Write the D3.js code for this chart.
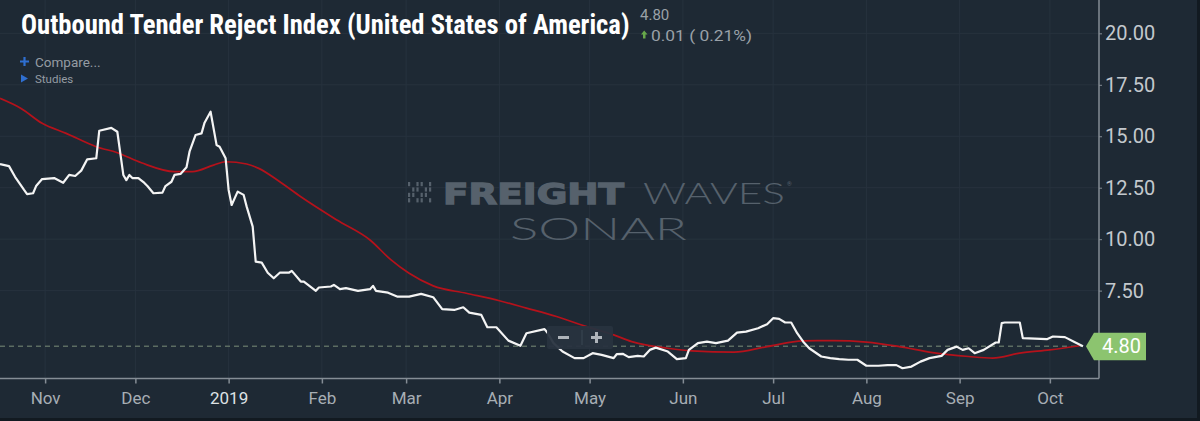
<!DOCTYPE html>
<html>
<head>
<meta charset="utf-8">
<title>Outbound Tender Reject Index</title>
<style>
  html, body { margin: 0; padding: 0; background: #121a21; }
  svg { display: block; }
</style>
</head>
<body>
<script src="https://d3js.org/d3.v7.min.js"></script>
<script>

var width = 1200,
    height = 421,
    panelW = 1197,
    panelH = 418,
    plotRight = 1099,
    plotBottom = 378.5;

var bgColor = "#1e2934",
    gridColor = "#27323e",
    axisColor = "#858d95",
    tickTextColor = "#a7aeb4",
    otriColor = "#f4f4f4",
    maColor = "#b5121b",
    markColor = "#56616c",
    priceGreen = "#8cc46f";

// daily index (white line)
var otriDates = ["2018-10-17","2018-10-20","2018-10-22","2018-10-25","2018-10-26","2018-10-28","2018-10-29","2018-10-31",
  "2018-11-04","2018-11-07","2018-11-09","2018-11-11","2018-11-13","2018-11-15","2018-11-18","2018-11-19","2018-11-23",
  "2018-11-25","2018-11-26","2018-11-27","2018-11-28","2018-11-29","2018-11-30","2018-12-02","2018-12-04","2018-12-05",
  "2018-12-07","2018-12-10","2018-12-11","2018-12-13","2018-12-14","2018-12-16","2018-12-18","2018-12-19","2018-12-21",
  "2018-12-23","2018-12-24","2018-12-26","2018-12-28","2018-12-29","2018-12-31","2019-01-01","2019-01-02","2019-01-04",
  "2019-01-06","2019-01-07","2019-01-09","2019-01-10","2019-01-12","2019-01-14","2019-01-16","2019-01-18","2019-01-21",
  "2019-01-22","2019-01-25","2019-01-26","2019-01-30","2019-01-31","2019-02-04","2019-02-05","2019-02-07","2019-02-09",
  "2019-02-13","2019-02-17","2019-02-18","2019-02-19","2019-02-23","2019-02-26","2019-03-02","2019-03-06","2019-03-10",
  "2019-03-13","2019-03-17","2019-03-20","2019-03-22","2019-03-26","2019-03-28","2019-03-31","2019-04-04","2019-04-08",
  "2019-04-10","2019-04-16","2019-04-17","2019-04-19","2019-04-22","2019-04-26","2019-04-29","2019-05-02","2019-05-05",
  "2019-05-09","2019-05-10","2019-05-12","2019-05-14","2019-05-17","2019-05-19","2019-05-21","2019-05-23","2019-05-27",
  "2019-05-30","2019-06-02","2019-06-03","2019-06-06","2019-06-09","2019-06-12","2019-06-16","2019-06-19","2019-06-22",
  "2019-06-26","2019-06-29","2019-07-01","2019-07-03","2019-07-05","2019-07-07","2019-07-09","2019-07-11","2019-07-13",
  "2019-07-17","2019-07-20","2019-07-23","2019-07-26","2019-07-29","2019-08-01","2019-08-05","2019-08-08","2019-08-11",
  "2019-08-13","2019-08-16","2019-08-19","2019-08-22","2019-08-26","2019-08-28","2019-08-31","2019-09-02","2019-09-04",
  "2019-09-06","2019-09-09","2019-09-13","2019-09-14","2019-09-15","2019-09-16","2019-09-21","2019-09-22","2019-09-30",
  "2019-10-02","2019-10-06","2019-10-09","2019-10-12"];
var otriValues = [13.65,13.55,13.03,12.39,12.19,12.23,12.58,12.92,
  12.97,12.74,13.12,13.07,13.33,13.88,13.93,15.27,15.41,
  15.22,14.17,13.12,12.87,13.12,12.97,12.97,12.73,12.58,
  12.23,12.26,12.58,12.79,13.12,13.17,13.49,14.25,15.06,
  15.14,15.66,16.19,14.57,14.49,13.93,12.39,11.66,12.31,
  12.15,11.58,10.61,8.91,8.86,8.37,8.10,8.37,8.37,
  8.46,7.94,7.94,7.49,7.65,7.70,7.78,7.57,7.62,
  7.49,7.57,7.73,7.49,7.40,7.21,7.21,7.34,7.18,
  6.60,6.56,6.69,6.43,6.32,5.72,5.72,5.07,4.82,
  5.43,5.63,5.45,4.95,4.54,4.22,4.22,4.46,4.38,
  4.22,4.41,4.43,4.27,4.33,4.30,4.62,4.73,4.54,
  4.17,4.22,4.62,4.95,5.02,4.95,5.07,5.46,5.51,
  5.67,5.87,6.16,6.13,5.95,5.95,5.43,5.02,4.70,
  4.30,4.22,4.17,4.14,4.14,3.85,3.85,3.88,3.88,
  3.73,3.81,4.05,4.22,4.33,4.62,4.78,4.62,4.70,
  4.46,4.62,4.98,4.98,5.92,5.95,5.95,5.19,5.14,
  5.27,5.24,5.02,4.80];

// moving average study (red line)
var maDates = ["2018-10-17","2018-10-24","2018-10-31","2018-11-08","2018-11-18","2018-11-25","2018-12-03","2018-12-14",
  "2018-12-20","2018-12-27","2018-12-31","2019-01-07","2019-01-11","2019-01-18","2019-01-25","2019-02-06","2019-02-17",
  "2019-02-24","2019-03-02","2019-03-10","2019-03-21","2019-04-01","2019-04-10","2019-04-20","2019-04-30","2019-05-09",
  "2019-05-15","2019-05-27","2019-06-04","2019-06-18","2019-06-29","2019-07-11","2019-07-21","2019-08-01","2019-08-12",
  "2019-08-23","2019-09-04","2019-09-12","2019-09-21","2019-10-01","2019-10-11"];
var maValues = [16.84,16.35,15.63,15.14,14.49,14.20,13.71,13.28,
  13.28,13.60,13.76,13.65,13.44,12.79,12.06,10.93,9.96,
  8.99,8.34,7.73,7.37,7.01,6.65,6.24,5.75,5.35,
  5.02,4.70,4.57,4.51,4.78,5.06,5.07,5.00,4.78,
  4.49,4.30,4.22,4.46,4.62,4.82];

var yTicks = [7.5, 10, 12.5, 15, 17.5, 20];
var xDomain = ["2018-10-17", "2019-10-17"];

var titleText = "Outbound Tender Reject Index (United States of America)";
var lastValue = 4.80, changeValue = 0.01, changePct = 0.21;

var parseDate = d3.timeParse("%Y-%m-%d");
var otri = otriDates.map(function(d, i) { return { date: parseDate(d), value: otriValues[i] }; });
var ma = maDates.map(function(d, i) { return { date: parseDate(d), value: maValues[i] }; });

var x = d3.scaleTime()
    .domain(xDomain.map(parseDate))
    .range([0, 1098]);

var y = d3.scaleLinear()
    .domain([3.23, 21.62])
    .range([plotBottom, 0]);

var svg = d3.select("body").append("svg")
    .attr("width", width)
    .attr("height", height);

svg.append("rect")
    .attr("width", width)
    .attr("height", height)
    .attr("fill", "#121a21");

svg.append("rect")
    .attr("width", panelW)
    .attr("height", panelH)
    .attr("fill", bgColor);

// grid
var months = d3.timeMonth.range(x.domain()[0], x.domain()[1]);

svg.append("g").selectAll("line").data(months)
  .enter().append("line")
    .attr("x1", function(d) { return x(d); })
    .attr("x2", function(d) { return x(d); })
    .attr("y1", 0)
    .attr("y2", plotBottom)
    .attr("stroke", gridColor)
    .attr("stroke-width", 1);

svg.append("g").selectAll("line").data(yTicks)
  .enter().append("line")
    .attr("x1", 0)
    .attr("x2", plotRight)
    .attr("y1", function(d) { return y(d); })
    .attr("y2", function(d) { return y(d); })
    .attr("stroke", gridColor)
    .attr("stroke-width", 1);

// watermark
var mark = svg.append("g").attr("fill", markColor);

for (var c = 0; c < 6; c++) {
  for (var r = 0; r < 4; r++) {
    if ((c + r) % 3 === 1) continue;
    mark.append("rect")
      .attr("x", 408 + c * 4.2)
      .attr("y", 182 + r * 5.4)
      .attr("width", 2.2)
      .attr("height", 4.2);
  }
}

mark.append("text")
    .attr("x", 443)
    .attr("y", 203.5)
    .attr("font-family", "'DejaVu Sans', sans-serif")
    .attr("font-weight", "bold")
    .attr("font-size", 29)
    .attr("stroke", markColor)
    .attr("stroke-width", 1.3)
    .attr("textLength", 181)
    .attr("lengthAdjust", "spacingAndGlyphs")
    .text("FREIGHT");

mark.append("text")
    .attr("x", 643)
    .attr("y", 203.5)
    .attr("font-family", "Lato, 'Open Sans', Roboto, sans-serif")
    .attr("font-weight", 300)
    .attr("font-size", 30)
    .attr("textLength", 142)
    .attr("lengthAdjust", "spacingAndGlyphs")
    .text("WAVES");

mark.append("text")
    .attr("x", 787)
    .attr("y", 186)
    .attr("font-family", "Roboto, sans-serif")
    .attr("font-size", 6)
    .text("®");

mark.append("text")
    .attr("x", 510)
    .attr("y", 240)
    .attr("font-family", "Lato, 'Open Sans', Roboto, sans-serif")
    .attr("font-weight", 300)
    .attr("font-size", 32)
    .attr("textLength", 177)
    .attr("lengthAdjust", "spacingAndGlyphs")
    .text("SONAR");

// last value guide
var lastPoint = otri[otri.length - 1];

svg.append("line")
    .attr("x1", 0)
    .attr("x2", x(lastPoint.date))
    .attr("y1", y(lastValue))
    .attr("y2", y(lastValue))
    .attr("stroke", "#7b8f78")
    .attr("stroke-width", 1)
    .attr("stroke-dasharray", "5,4");

// series
var maLine = d3.line()
    .x(function(d) { return x(d.date); })
    .y(function(d) { return y(d.value); })
    .curve(d3.curveMonotoneX);

var otriLine = d3.line()
    .x(function(d) { return x(d.date); })
    .y(function(d) { return y(d.value); });

svg.append("path")
    .datum(ma)
    .attr("fill", "none")
    .attr("stroke", maColor)
    .attr("stroke-width", 1.7)
    .attr("d", maLine);

svg.append("path")
    .datum(otri)
    .attr("fill", "none")
    .attr("stroke", otriColor)
    .attr("stroke-width", 2.2)
    .attr("stroke-linejoin", "round")
    .attr("d", otriLine);

// zoom buttons
var zoomBox = svg.append("g").attr("transform", "translate(547,326)");
zoomBox.append("rect")
    .attr("width", 66)
    .attr("height", 23)
    .attr("rx", 2)
    .attr("fill", "#28333f")
    .attr("opacity", 0.95);
zoomBox.append("line")
    .attr("x1", 35).attr("x2", 35)
    .attr("y1", 4).attr("y2", 19)
    .attr("stroke", "#3b4652");
zoomBox.append("rect")
    .attr("x", 11).attr("y", 10)
    .attr("width", 11).attr("height", 3)
    .attr("fill", "#aeb4ba");
zoomBox.append("rect")
    .attr("x", 44).attr("y", 10)
    .attr("width", 11).attr("height", 3)
    .attr("fill", "#aeb4ba");
zoomBox.append("rect")
    .attr("x", 48).attr("y", 6)
    .attr("width", 3).attr("height", 11)
    .attr("fill", "#aeb4ba");

// axes
var xAxis = d3.axisBottom(x)
    .tickValues(months.filter(function(d) { return d > x.domain()[0]; }))
    .tickSize(5)
    .tickPadding(8)
    .tickFormat(function(d) { return d.getMonth() === 0 ? d3.timeFormat("%Y")(d) : d3.timeFormat("%b")(d); });

var gx = svg.append("g")
    .attr("transform", "translate(0," + plotBottom + ")")
    .call(xAxis);
gx.select(".domain").attr("stroke", axisColor).attr("stroke-width", 1.5).attr("d", "M0,0H" + plotRight);
gx.selectAll(".tick line").attr("stroke", axisColor).attr("stroke-width", 1.5);
gx.selectAll(".tick text")
    .attr("fill", function(d) { return d.getMonth() === 0 ? "#dde1e4" : tickTextColor; })
    .attr("font-family", "Roboto, sans-serif")
    .attr("font-size", 17);

var yAxis = d3.axisRight(y)
    .tickValues(yTicks)
    .tickSize(3)
    .tickPadding(3)
    .tickFormat(d3.format(".2f"));

var gy = svg.append("g")
    .attr("transform", "translate(" + plotRight + ",0)")
    .call(yAxis);
gy.select(".domain").attr("stroke", axisColor).attr("stroke-width", 1.5).attr("d", "M0,0V" + plotBottom);
gy.selectAll(".tick line").attr("stroke", axisColor);
gy.selectAll(".tick text")
    .attr("fill", "#c3c8cd")
    .attr("font-family", "Roboto, sans-serif")
    .attr("font-size", 20);

// price pennant
var px = x(lastPoint.date) + 3,
    py = y(lastValue);
svg.append("path")
    .attr("d", "M" + px + "," + py + "L" + (px + 8) + "," + (py - 13.5) + "H1146V" + (py + 14) + "H" + (px + 8) + "Z")
    .attr("fill", priceGreen);
svg.append("text")
    .attr("x", 1102)
    .attr("y", py + 7)
    .attr("fill", "#ffffff")
    .attr("font-family", "Roboto, sans-serif")
    .attr("font-size", 20)
    .text(d3.format(".2f")(lastValue));

// header: title squeezed to the condensed width with a horizontal scale
var title = svg.append("text")
    .attr("x", 0)
    .attr("y", 0)
    .attr("fill", "#ffffff")
    .attr("font-family", "'Roboto Condensed', 'Liberation Sans Narrow', Roboto, sans-serif")
    .attr("font-weight", "bold")
    .attr("font-size", 28)
    .text(titleText);
var titleScale = 609 / title.node().getComputedTextLength();
title.attr("transform", "translate(21,33.5) scale(" + titleScale + ",1)");

svg.append("text")
    .attr("x", 640)
    .attr("y", 20)
    .attr("fill", "#9aa1a8")
    .attr("font-family", "Roboto, sans-serif")
    .attr("font-size", 15)
    .text(d3.format(".2f")(lastValue));

svg.append("path")
    .attr("d", "M644.2,30.5L647.5,34.5H645.5V38.5H643V34.5H641Z")
    .attr("fill", "#67a84a");

svg.append("text")
    .attr("x", 651)
    .attr("y", 41)
    .attr("fill", "#9aa1a8")
    .attr("font-family", "Roboto, sans-serif")
    .attr("font-size", 15.5)
    .attr("textLength", 101)
    .attr("lengthAdjust", "spacingAndGlyphs")
    .text(d3.format(".2f")(changeValue) + " ( " + d3.format(".2f")(changePct) + "%)");

svg.append("path")
    .attr("d", "M20,61.5H29M24.5,57V66")
    .attr("stroke", "#2f6fd0")
    .attr("stroke-width", 2.2);
svg.append("text")
    .attr("x", 35)
    .attr("y", 66.5)
    .attr("fill", "#959ca3")
    .attr("font-family", "Roboto, sans-serif")
    .attr("font-size", 13.5)
    .text("Compare...");

svg.append("path")
    .attr("d", "M21,74.5L28,78.5L21,82.5Z")
    .attr("fill", "#2f6fd0");
svg.append("text")
    .attr("x", 35)
    .attr("y", 83)
    .attr("fill", "#959ca3")
    .attr("font-family", "Roboto, sans-serif")
    .attr("font-size", 11.5)
    .text("Studies");

</script>
</body>
</html>
